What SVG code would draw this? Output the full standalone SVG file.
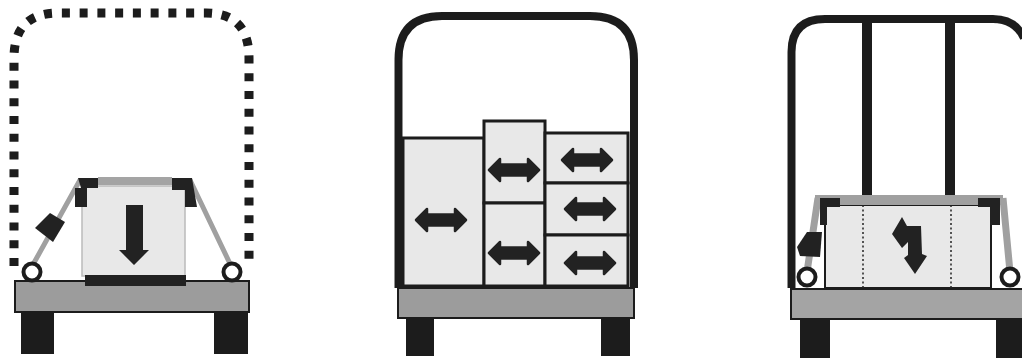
<svg xmlns="http://www.w3.org/2000/svg" width="1022" height="363" viewBox="0 0 1022 363">
<style>
.bed{fill:#9c9c9c;stroke:#1c1c1c;stroke-width:2}
.leg{fill:#1e1e1e}
.cargo{fill:#e8e8e8;stroke:#1c1c1c;stroke-width:3}
.frame{fill:none;stroke:#1e1e1e;stroke-width:8}
.strap{fill:none;stroke:#a0a0a0;stroke-width:5}
.dark{fill:#242424}
.ring{fill:#fff;stroke:#1e1e1e;stroke-width:4}
.soft{filter:url(#soft)}
</style>
<defs>
<filter id="soft" x="-5%" y="-5%" width="110%" height="110%"><feGaussianBlur stdDeviation="0.6"/></filter>
<path id="dbl" d="M-25 0L-14-11V-5.500H14V-11L25 0L14 11V5.500H-14V11Z" fill="#242424" stroke="#242424" stroke-width="2.500" stroke-linejoin="round"/>
</defs>
<rect width="1022" height="363" fill="#fff"/>
<g id="truck-left" class="soft">
<path d="M14 266V58Q14 13 58 13H206Q249 13 249 58V266" fill="none" stroke="#1a1a1a" stroke-width="9" stroke-dasharray="8 9.750"/>
<rect x="82" y="186" width="103" height="90" fill="#e8e8e8" stroke="#bbb" stroke-width="1.500"/>
<rect class="leg" x="21" y="312" width="33" height="42"/>
<rect class="leg" x="214" y="312" width="34" height="42"/>
<rect class="bed" x="15" y="281" width="234" height="31"/>
<rect class="dark" x="85" y="275" width="101" height="11"/>
<path d="M98 181H172" stroke="#a4a4a4" stroke-width="8" fill="none"/>
<path class="strap" d="M30 270L80 180M190 180L233 270"/>
<path class="dark" d="M78 178H98V188H87V207H75V188H81ZM172 178H192L197 207H185V190H172Z"/>
<path class="dark" d="M50 213L65 222L53 242L35 228Z"/>
<path class="dark" d="M126 205H143V250H149L134 265L119 250H126Z"/>
<circle class="ring" cx="32" cy="272" r="8.500"/>
<circle class="ring" cx="232" cy="272" r="8.500"/>
</g>
<g id="truck-middle" class="soft">
<path class="frame" d="M398.500 288V60Q398.500 16 442 16H590Q634 16 634 60V288"/>
<rect class="leg" x="406" y="318" width="28" height="38"/>
<rect class="leg" x="601" y="318" width="29" height="38"/>
<rect class="bed" x="398" y="288" width="236" height="30"/>
<rect class="cargo" x="403" y="138" width="81" height="148"/>
<rect class="cargo" x="484" y="121" width="61" height="82"/>
<rect class="cargo" x="484" y="203" width="61" height="83"/>
<rect class="cargo" x="545" y="133" width="83" height="50"/>
<rect class="cargo" x="545" y="183" width="83" height="52"/>
<rect class="cargo" x="545" y="235" width="83" height="51"/>
<use href="#dbl" x="441" y="220"/>
<use href="#dbl" x="514" y="170"/>
<use href="#dbl" x="514" y="253"/>
<use href="#dbl" x="587" y="160"/>
<use href="#dbl" x="590" y="209"/>
<use href="#dbl" x="590" y="263"/>
</g>
<g id="truck-right" class="soft">
<path d="M791.500 288V52Q791.500 19 825 19H993Q1015 19 1024 38" fill="none" stroke="#1e1e1e" stroke-width="8"/>
<rect class="leg" x="862" y="20" width="10" height="175"/>
<rect class="leg" x="945" y="20" width="10" height="175"/>
<rect x="825" y="205" width="166" height="83" fill="#e8e8e8" stroke="#1c1c1c" stroke-width="2"/>
<path d="M863 205V288M951 205V288" stroke="#222" stroke-width="1.500" stroke-dasharray="2 2.500"/>
<rect class="leg" x="800" y="318" width="30" height="40"/>
<rect class="leg" x="996" y="318" width="26" height="40"/>
<rect x="791" y="289" width="235" height="30" fill="#a4a4a4" stroke="#1c1c1c" stroke-width="2"/>
<path d="M815 200H1003" stroke="#a0a0a0" stroke-width="10" fill="none"/>
<path d="M807 272L818 198M1003 198L1010 272" fill="none" stroke="#a0a0a0" stroke-width="7"/>
<path class="dark" d="M820 198H840V207H827V225H820ZM978 198H1000V225H990V207H978Z"/>
<path class="dark" d="M807 232H822L820 257L800 256L797 247Z"/>
<path class="dark" d="M902 217L907 226H921L922 254L927 256L915 274L904 258L908 255V242L902 248L892 234Z"/>
<circle class="ring" cx="807" cy="277" r="8.500"/>
<circle class="ring" cx="1010" cy="277" r="8.500"/>
</g>
</svg>
